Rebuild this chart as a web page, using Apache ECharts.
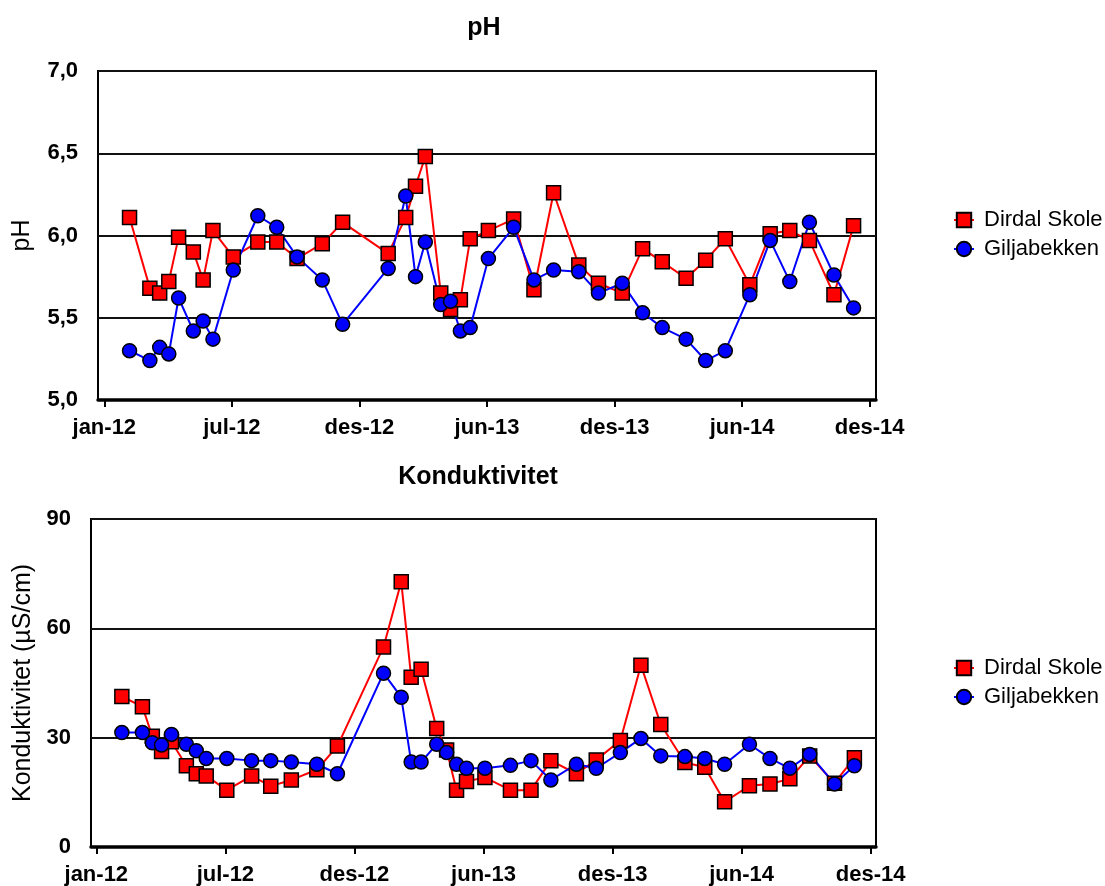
<!DOCTYPE html>
<html>
<head>
<meta charset="utf-8">
<script src="https://cdn.jsdelivr.net/npm/echarts@6/dist/echarts.min.js"></script>
<style>
html,body{margin:0;padding:0;background:#fff;}
#chart{width:1105px;height:886px;}
</style>
</head>
<body>
<div id="chart"></div>
<script>
// Sampling dates shared by both stations
const dates = ['2012-02-06','2012-03-06','2012-03-20','2012-04-02','2012-04-16','2012-05-07','2012-05-21','2012-06-04',
  '2012-07-03','2012-08-07','2012-09-03','2012-10-02','2012-11-07','2012-12-06','2013-02-09','2013-03-06',
  '2013-03-20','2013-04-03','2013-04-25','2013-05-09','2013-05-23','2013-06-06','2013-07-02','2013-08-07',
  '2013-09-05','2013-10-03','2013-11-08','2013-12-06','2014-01-09','2014-02-07','2014-03-07','2014-04-10',
  '2014-05-08','2014-06-05','2014-07-10','2014-08-08','2014-09-05','2014-10-03','2014-11-07','2014-12-05'];

const seriesNames = ['Dirdal Skole', 'Giljabekken'];

const phDirdal = [6.11,5.68,5.65,5.72,5.99,5.90,5.73,6.03,5.87,5.96,5.96,5.86,5.95,6.08,5.89,6.11,6.30,6.48,5.65,5.55,
  5.61,5.98,6.03,6.10,5.67,6.26,5.82,5.71,5.65,5.92,5.84,5.74,5.85,5.98,5.70,6.01,6.03,5.97,5.64,6.06];
const phGilja = [5.30,5.24,5.32,5.28,5.62,5.42,5.48,5.37,5.79,6.12,6.05,5.87,5.73,5.46,5.80,6.24,5.75,5.96,5.58,5.60,
  5.42,5.44,5.86,6.05,5.73,5.79,5.78,5.65,5.71,5.53,5.44,5.37,5.24,5.30,5.64,5.97,5.72,6.08,5.76,5.56];

const kondDirdal = [41.3,38.5,30.4,26.2,28.9,22.3,20.1,19.5,15.6,19.5,16.7,18.4,21.2,27.7,54.9,72.8,46.6,48.8,32.5,26.6,
  15.6,18.0,19.1,15.6,15.6,23.7,20.1,23.9,29.2,49.9,33.6,23.2,21.9,12.4,16.8,17.3,18.7,25.0,17.5,24.5];
const kondGilja = [31.4,31.4,28.6,28.0,30.9,28.2,26.4,24.3,24.3,23.7,23.7,23.3,22.7,20.1,47.7,41.1,23.3,23.3,28.2,25.9,
  22.7,21.6,21.6,22.4,23.7,18.4,22.7,21.6,25.9,29.8,25.0,24.8,24.3,22.7,28.2,24.3,21.6,25.4,17.3,22.3];

// Date axis tick positions (every 182 days from 1 Jan 2012)
const tickDates = ['2012-01-01','2012-07-01','2012-12-30','2013-06-30','2013-12-29','2014-06-29','2014-12-28'];
const monthNames = ['jan','feb','mar','apr','mai','jun','jul','aug','sep','okt','nov','des'];

const FONT = '"Liberation Sans", Arial, Helvetica, sans-serif';
const DAY = 86400000;

function ts(s) {
  const p = s.split('-').map(Number);
  return new Date(p[0], p[1] - 1, p[2]).getTime();
}
function pairs(values) {
  return dates.map((d, i) => [ts(d), values[i]]);
}
const tickTs = tickDates.map(ts);
const firstTick = tickTs[0];
const lastTick = tickTs[tickTs.length - 1];

function monthLabel(v) {
  const d = new Date(v);
  return monthNames[d.getMonth()] + '-' + String(d.getFullYear()).slice(2);
}

function xAxisFor(gridIndex, padDays) {
  return {
    type: 'value',
    gridIndex: gridIndex,
    min: firstTick - padDays * DAY,
    max: lastTick + padDays * DAY,
    axisLine: { show: true, onZero: false, lineStyle: { color: '#000', width: 3.5 } },
    axisTick: { show: true, customValues: tickTs, length: 7, lineStyle: { color: '#000', width: 2 } },
    axisLabel: {
      customValues: tickTs, formatter: monthLabel, margin: 17,
      fontSize: 22, fontWeight: 'bold', color: '#000', fontFamily: FONT
    },
    splitLine: { show: false }
  };
}

function yAxisFor(gridIndex, opts) {
  return Object.assign({
    type: 'value',
    gridIndex: gridIndex,
    axisLine: { show: false },
    axisTick: { show: false },
    splitLine: { show: true, lineStyle: { color: '#111', width: 2 } },
    nameLocation: 'middle',
    nameTextStyle: { fontSize: 25, color: '#000', fontFamily: FONT }
  }, opts);
}

function lineSeries(name, values, xi, yi) {
  const red = name === seriesNames[0];
  return {
    name: name,
    type: 'line',
    xAxisIndex: xi,
    yAxisIndex: yi,
    data: pairs(values),
    symbol: red ? 'rect' : 'circle',
    symbolSize: 14,
    showAllSymbol: true,
    lineStyle: { color: red ? '#ff0000' : '#0000ff', width: 2 },
    itemStyle: { color: red ? '#ff0000' : '#0000ff', borderColor: '#000', borderWidth: 1.5 },
    emphasis: { disabled: true },
    animation: false
  };
}

function legendAt(top) {
  return {
    data: seriesNames,
    orient: 'vertical',
    left: 948,
    top: top,
    itemWidth: 20,
    itemHeight: 18,
    itemGap: 7,
    textStyle: { fontSize: 22, color: '#000', fontFamily: FONT, padding: [0, 0, 0, 5] }
  };
}

const chart = echarts.init(document.getElementById('chart'), null, { renderer: 'canvas' });
chart.setOption({
  backgroundColor: '#fff',
  animation: false,
  graphic: [
    { type: 'text', x: 484, y: 28, style: { text: 'pH', font: 'bold 25px ' + FONT, fill: '#000', textAlign: 'center', textVerticalAlign: 'middle' } },
    { type: 'text', x: 478, y: 477, style: { text: 'Konduktivitet', font: 'bold 25px ' + FONT, fill: '#000', textAlign: 'center', textVerticalAlign: 'middle' } }
  ],
  legend: [legendAt(204), legendAt(652)],
  grid: [
    { left: 98, top: 71, width: 778, height: 329, show: true, borderColor: '#000', borderWidth: 2 },
    { left: 91, top: 519, width: 785, height: 328, show: true, borderColor: '#000', borderWidth: 2 }
  ],
  xAxis: [xAxisFor(0, 9), xAxisFor(1, 7.5)],
  yAxis: [
    yAxisFor(0, {
      min: 5, max: 7, interval: 0.5, name: 'pH', nameGap: 63,
      axisLabel: { formatter: v => v.toFixed(1).replace('.', ','), margin: 20, fontSize: 22, fontWeight: 'bold', color: '#000', fontFamily: FONT }
    }),
    yAxisFor(1, {
      min: 0, max: 90, interval: 30, name: 'Konduktivitet (µS/cm)', nameGap: 55,
      axisLabel: { margin: 20, fontSize: 22, fontWeight: 'bold', color: '#000', fontFamily: FONT }
    })
  ],
  series: [
    lineSeries(seriesNames[0], phDirdal, 0, 0),
    lineSeries(seriesNames[1], phGilja, 0, 0),
    lineSeries(seriesNames[0], kondDirdal, 1, 1),
    lineSeries(seriesNames[1], kondGilja, 1, 1)
  ]
});
</script>
</body>
</html>
